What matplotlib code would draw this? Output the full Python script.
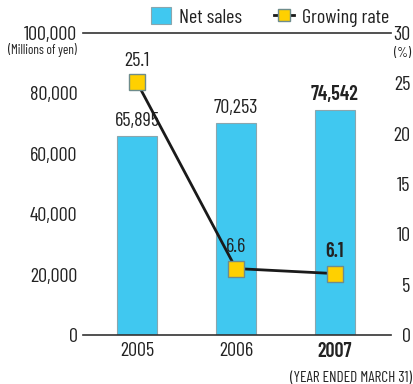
import matplotlib
matplotlib.use("Agg")
import matplotlib.pyplot as plt
from matplotlib.lines import Line2D
from matplotlib.patches import Patch

# Data
years = ["2005", "2006", "2007"]
net_sales = [65895, 70253, 74542]
growth_rate = [25.1, 6.6, 6.1]
left_ticks = [0, 20000, 40000, 60000, 80000, 100000]
right_ticks = [0, 5, 10, 15, 20, 25, 30]

plt.rcParams["font.family"] = ["Barlow Condensed", "DejaVu Sans"]

BAR = "#40C8F0"
BAR_EDGE = "#8AA6AE"
MARK = "#FFD000"
MARK_EDGE = "#6E8C8C"
TXT = "#222222"
FS = 14.5

W, H = 414, 384
fig = plt.figure(figsize=(W / 100, H / 100), dpi=100)
ax = fig.add_axes([83 / W, 49 / H, 308 / W, 302 / H])
x = list(range(len(years)))

ax.bar(x, net_sales, width=0.404, color=BAR, edgecolor=BAR_EDGE, linewidth=0.8, zorder=2)
ax.set_xlim(-0.545, 2.566)
ax.set_ylim(0, 100000)
ax.set_yticks(left_ticks)
ax.set_yticklabels([f"{v:,}" for v in left_ticks], fontsize=FS, color=TXT)
ax.set_xticks(x)
ax.set_xticklabels(years, fontsize=FS, color=TXT)
ax.get_xticklabels()[-1].set_fontweight("semibold")
ax.tick_params(axis="y", length=0, pad=4)
ax.tick_params(axis="x", length=0, pad=5)
for s in ["left", "right"]:
    ax.spines[s].set_visible(False)
for s in ["top", "bottom"]:
    ax.spines[s].set_linewidth(1.2)
    ax.spines[s].set_color("#333333")

for i, v in enumerate(net_sales):
    ax.annotate(f"{v:,}", (i, v), xytext=(0, 4), textcoords="offset points",
                ha="center", va="bottom", fontsize=FS, color=TXT,
                fontweight="semibold" if i == len(years) - 1 else "normal", zorder=5)

ax2 = ax.twinx()
ax2.set_ylim(0, 30)
ax2.set_yticks(right_ticks)
ax2.set_yticklabels([str(v) for v in right_ticks], fontsize=FS, color=TXT, ha="right")
ax2.tick_params(length=0, pad=14)
for s in ax2.spines.values():
    s.set_visible(False)
ax2.plot(x, growth_rate, color="#1a1a1a", linewidth=2, zorder=3)
ax2.plot(x, growth_rate, linestyle="none", marker="s", markersize=11.5,
         markerfacecolor=MARK, markeredgecolor=MARK_EDGE, markeredgewidth=1.0, zorder=4)
for i, v in enumerate(growth_rate):
    ax2.annotate(f"{v}", (i, v), xytext=(0, 9), textcoords="offset points",
                 ha="center", va="bottom", fontsize=FS, color=TXT,
                 fontweight="semibold" if i == len(years) - 1 else "normal", zorder=5)

fig.text(8 / W, 1 - 50 / H, "(Millions of yen)", fontsize=9.5, color=TXT, va="center", ha="left")
fig.text(394 / W, 1 - 53 / H, "(%)", fontsize=10, color=TXT, va="center", ha="left")
fig.text(412 / W, 1 - 378 / H, "(YEAR ENDED MARCH 31)", fontsize=11, color=TXT, va="center", ha="right")

handles = [
    Patch(facecolor=BAR, edgecolor=BAR_EDGE, linewidth=0.8),
    Line2D([0], [0], color="#1a1a1a", linewidth=2, marker="s", markersize=8,
           markerfacecolor=MARK, markeredgecolor=MARK_EDGE),
]
fig.legend(handles, ["Net sales", "Growing rate"], loc="center", bbox_to_anchor=(270 / W, 1 - 17 / H),
           ncol=2, frameon=False, fontsize=FS, handlelength=1.0, handleheight=0.9,
           handletextpad=0.4, columnspacing=1.6, labelcolor=TXT)

fig.savefig("out.png", dpi=100)
